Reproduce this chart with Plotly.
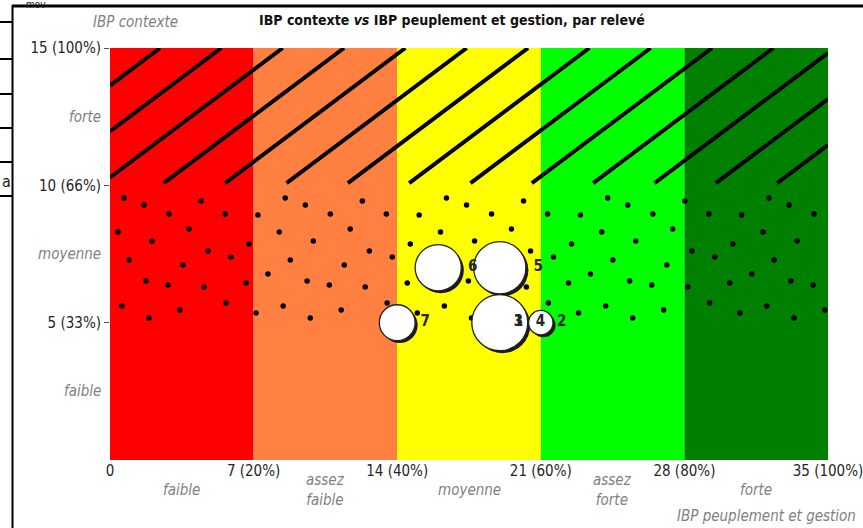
import plotly.graph_objects as go

# ---------------- Data ----------------
classes_x = ["faible", "assez<br>faible", "moyenne", "assez<br>forte", "forte"]
bornes_x = [0, 7, 14, 21, 28, 35]
couleurs_classes = ["#FF0000", "#FF8040", "#FFFF00", "#00FF00", "#008000"]
ticks_x_vals = [0, 7, 14, 21, 28, 35]
ticks_x_labels = ["0", "7 (20%)", "14 (40%)", "21 (60%)", "28 (80%)", "35 (100%)"]

classes_y = ["faible", "moyenne", "forte"]
bornes_y = [0, 5, 10, 15]
ticks_y_vals = [5, 10, 15]
ticks_y_labels = ["5 (33%)", "10 (66%)", "15 (100%)"]

releves = ["1", "2", "3", "4", "5", "6", "7"]
ibp_peuplement = [19, 21, 19, 19, 19, 16, 14]
ibp_contexte = [5, 5, 5, 5, 7, 7, 5]
surface = [14, 19, 14, 100, 87, 68, 41]

# ---------------- Geometry helpers (layout only) ----------------
W, H = 863, 528
ML, MR, MT, MB = 110, 35, 48, 68
PW, PH = W - ML - MR, H - MT - MB


def px2x(px):
    return (px - ML) / PW


def py2y(py):
    return (H - MB - py) / PH


FONT = "Liberation Sans Narrow, Arial Narrow, DejaVu Sans Condensed, sans-serif"
GRAY = "#7f7f7f"
DARK = "#262626"
FS = 15

fig = go.Figure()

# Colour bands (classes of IBP peuplement et gestion)
centres = [(bornes_x[i] + bornes_x[i + 1]) / 2 for i in range(len(classes_x))]
largeurs = [bornes_x[i + 1] - bornes_x[i] for i in range(len(classes_x))]
fig.add_trace(go.Bar(
    x=centres, y=[bornes_y[-1]] * len(centres), width=largeurs,
    marker=dict(color=couleurs_classes, line=dict(width=0)),
    hoverinfo="skip", showlegend=False,
))

# Dotted fill for the middle class (decorative pattern tile, repeated)
tile = [(0.68, 9.54), (1.66, 9.28), (2.88, 8.96), (4.44, 9.43), (5.61, 8.96),
        (0.39, 8.30), (2.05, 7.97), (3.85, 8.41), (6.78, 7.86), (0.93, 7.28),
        (3.56, 7.10), (4.78, 7.61), (5.90, 7.39), (1.75, 6.52), (2.83, 6.37),
        (4.58, 6.30), (6.63, 6.44), (0.58, 5.61), (1.90, 5.17), (3.41, 5.46),
        (5.65, 5.72), (7.21, 8.92), (7.70, 6.77), (7.12, 5.35)]
period = 7.86
dx, dy = [], []
for k in range(6):
    for (u, v) in tile:
        xx = u + k * period
        if 0.15 < xx < bornes_x[-1] - 0.05:
            dx.append(xx)
            dy.append(v)
fig.add_trace(go.Scatter(x=dx, y=dy, mode="markers",
                         marker=dict(size=5.5, color="black", line=dict(width=0), opacity=1),
                         hoverinfo="skip", showlegend=False))

# Hatching for the upper class
slope, c0, step, ylow = 0.56, 2.44, 2.99, 10.08
top = bornes_y[-1]
hx, hy = [], []
for k in range(16):
    c = c0 + k * step
    xa, xb = c - (top - ylow) / slope, c
    if xb <= 0 or xa >= bornes_x[-1]:
        continue
    xs, xe = max(xa, 0), min(xb, bornes_x[-1])
    hx += [xs, xe, None]
    hy += [top + slope * (xs - c), top + slope * (xe - c), None]
fig.add_trace(go.Scatter(x=hx, y=hy, mode="lines",
                         line=dict(color="black", width=4),
                         hoverinfo="skip", showlegend=False))

# Bubbles (drawn from top to bottom, small before large)
order = sorted(range(len(releves)), key=lambda i: (-ibp_contexte[i], surface[i]))
bx = [ibp_peuplement[i] for i in order]
by = [ibp_contexte[i] for i in order]
bs = [5.6 * surface[i] ** 0.5 for i in order]
bt = [releves[i] for i in order]
sx = 2.5 / (PW / (bornes_x[-1] - bornes_x[0]))
sy = 2.5 / (PH / (bornes_y[-1] - bornes_y[0]))
fig.add_trace(go.Scatter(x=[v + sx for v in bx], y=[v - sy for v in by], mode="markers",
                         marker=dict(size=bs, color="#1a1a1a", line=dict(width=0), opacity=1),
                         hoverinfo="skip", showlegend=False))
fig.add_trace(go.Scatter(x=bx, y=by, mode="markers+text", text=bt,
                         textposition="middle right",
                         textfont=dict(family=FONT, size=FS, color=DARK, weight="bold"),
                         marker=dict(size=bs, color="white", opacity=1,
                                     line=dict(width=1.3, color="#222")),
                         hoverinfo="skip", showlegend=False))

# Axes
fig.update_xaxes(range=[bornes_x[0], bornes_x[-1]], tickvals=ticks_x_vals, ticktext=ticks_x_labels,
                 showgrid=False, zeroline=False, showline=False, ticks="",
                 ticklabeloverflow="allow", automargin=False,
                 tickfont=dict(family=FONT, size=FS, color=DARK))
fig.update_yaxes(range=[bornes_y[0], bornes_y[-1]], tickvals=ticks_y_vals, ticktext=ticks_y_labels,
                 showgrid=False, zeroline=False, showline=False, ticks="outside", ticklen=5,
                 tickcolor="#555", tickwidth=1, automargin=False,
                 tickfont=dict(family=FONT, size=FS, color=DARK))

ann = []
# y-class labels
for i, lab in enumerate(classes_y):
    ann.append(dict(text="<i>" + lab + "</i>", xref="paper", yref="y", x=px2x(103),
                    y=(bornes_y[i] + bornes_y[i + 1]) / 2, xanchor="right", yanchor="middle",
                    showarrow=False, font=dict(family=FONT, size=FS, color=GRAY)))
# x-class labels
for i, lab in enumerate(classes_x):
    ann.append(dict(text="<i>" + lab + "</i>", xref="x", yref="paper", x=centres[i],
                    y=py2y(490), xanchor="center", yanchor="middle", showarrow=False,
                    font=dict(family=FONT, size=FS, color=GRAY)))
ann.append(dict(text="<i>IBP contexte</i>", xref="paper", yref="paper", x=px2x(180), y=py2y(22),
                xanchor="right", yanchor="middle", showarrow=False,
                font=dict(family=FONT, size=FS, color=GRAY)))
ann.append(dict(text="<i>IBP peuplement et gestion</i>", xref="paper", yref="paper", x=px2x(858),
                y=py2y(516), xanchor="right", yanchor="middle", showarrow=False,
                font=dict(family=FONT, size=FS, color=GRAY)))
ann.append(dict(text="<b>IBP contexte <i>vs</i> IBP peuplement et gestion, par relevé</b>",
                xref="paper", yref="paper", x=px2x(452), y=py2y(20), xanchor="center",
                yanchor="middle", showarrow=False, font=dict(family=FONT, size=14, color="#111")))
# page artefacts outside the chart frame
ann.append(dict(text="mov", xref="paper", yref="paper", x=px2x(36), y=py2y(4), xanchor="center",
                yanchor="middle", showarrow=False, font=dict(family=FONT, size=10, color="#222")))
ann.append(dict(text="a", xref="paper", yref="paper", x=px2x(6), y=py2y(181), xanchor="center",
                yanchor="middle", showarrow=False, font=dict(family=FONT, size=16, color="#222")))

shapes = []
shapes.append(dict(type="line", xref="paper", yref="paper", x0=px2x(12), x1=px2x(863),
                   y0=py2y(6), y1=py2y(6), line=dict(color="black", width=3)))
shapes.append(dict(type="line", xref="paper", yref="paper", x0=px2x(12.5), x1=px2x(12.5),
                   y0=py2y(5), y1=py2y(528), line=dict(color="black", width=2)))
for py in [22, 59, 94, 128, 162, 196]:
    shapes.append(dict(type="line", xref="paper", yref="paper", x0=px2x(0), x1=px2x(12),
                       y0=py2y(py), y1=py2y(py), line=dict(color="black", width=2)))

fig.update_layout(
    width=W, height=H, margin=dict(l=ML, r=MR, t=MT, b=MB, autoexpand=False),
    paper_bgcolor="white", plot_bgcolor="white",
    annotations=ann, shapes=shapes, showlegend=False, barmode="overlay",
)

fig.write_html("out.html", config={"displayModeBar": False},
               post_script="document.body.style.margin='0';document.body.style.overflow='hidden';")
